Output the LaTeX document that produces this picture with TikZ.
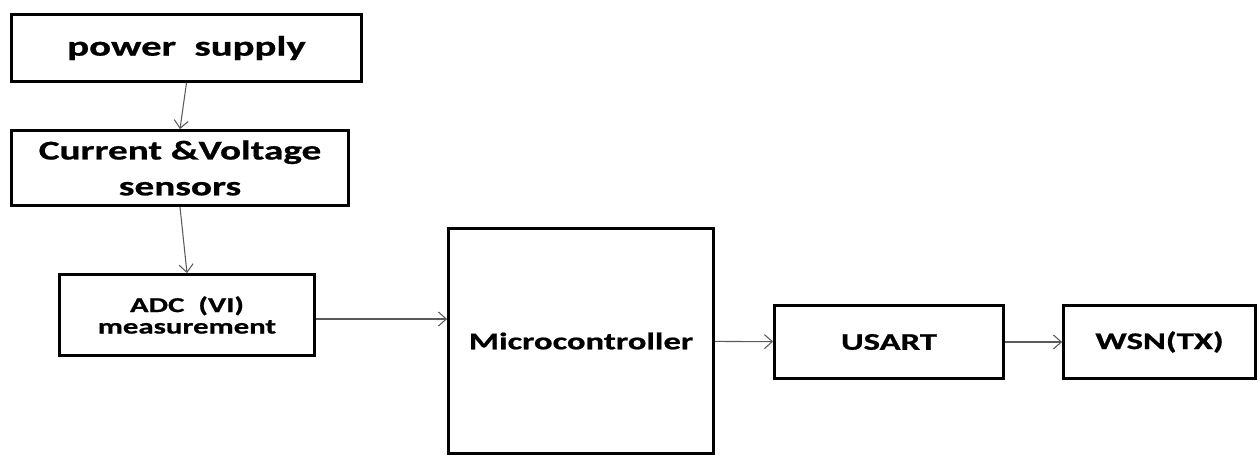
\documentclass[tikz,border=0pt]{standalone}
\usepackage{fontspec}
\setmainfont{Carlito}[FakeStretch=1.45, FakeBold=0.8]
\usepackage{tikz}
\usetikzlibrary{arrows.meta,positioning}
\definecolor{arrowgray}{RGB}{90,90,90}

\begin{document}
\begin{tikzpicture}[
    blk/.style={rectangle, draw=black, line width=1.6pt, fill=white, align=center, font=\bfseries, inner sep=0pt},
    flow/.style={draw=arrowgray, line width=0.6pt, -{Straight Barb[length=4.5pt, width=8pt]}}
]
    \useasboundingbox (0,0) rectangle (25.2,9.14);

    \node[blk, minimum width=7.0cm, minimum height=1.34cm, font=\fontsize{16}{19}\selectfont\bfseries] (psu) at (3.73,8.18) {power\ \ supply};
    \node[blk, minimum width=6.74cm, minimum height=1.5cm, font=\fontsize{15.4}{20.4}\selectfont\bfseries] (sens) at (3.6,5.78) {Current \&Voltage\\sensors};
    \node[blk, minimum width=5.1cm, minimum height=1.62cm, font=\fontsize{12.1}{12.2}\selectfont\bfseries] (adc) at (3.74,2.84) {ADC\ \ (VI)\\measurement};
    \node[blk, minimum width=5.3cm, minimum height=4.5cm, font=\fontsize{13.6}{15}\selectfont\bfseries] (mcu) at (11.62,2.32) {Microcontroller};
    \node[blk, minimum width=4.58cm, minimum height=1.46cm, font=\fontsize{13.6}{15}\selectfont\bfseries] (usart) at (17.78,2.3) {USART};
    \node[blk, minimum width=3.84cm, minimum height=1.46cm, font=\fontsize{13.6}{15}\selectfont\bfseries] (wsn) at (23.19,2.3) {WSN(TX)};

    \draw[flow] (psu.south) -- (sens.north);
    \draw[flow] (sens.south) -- (adc.north);
    \draw[flow] ([yshift=-0.08cm]adc.east) -- ([yshift=-0.08cm]adc.east -| mcu.west);
    \draw[flow] (mcu) -- (usart);
    \draw[flow] (usart) -- (wsn);
\end{tikzpicture}
\end{document}
